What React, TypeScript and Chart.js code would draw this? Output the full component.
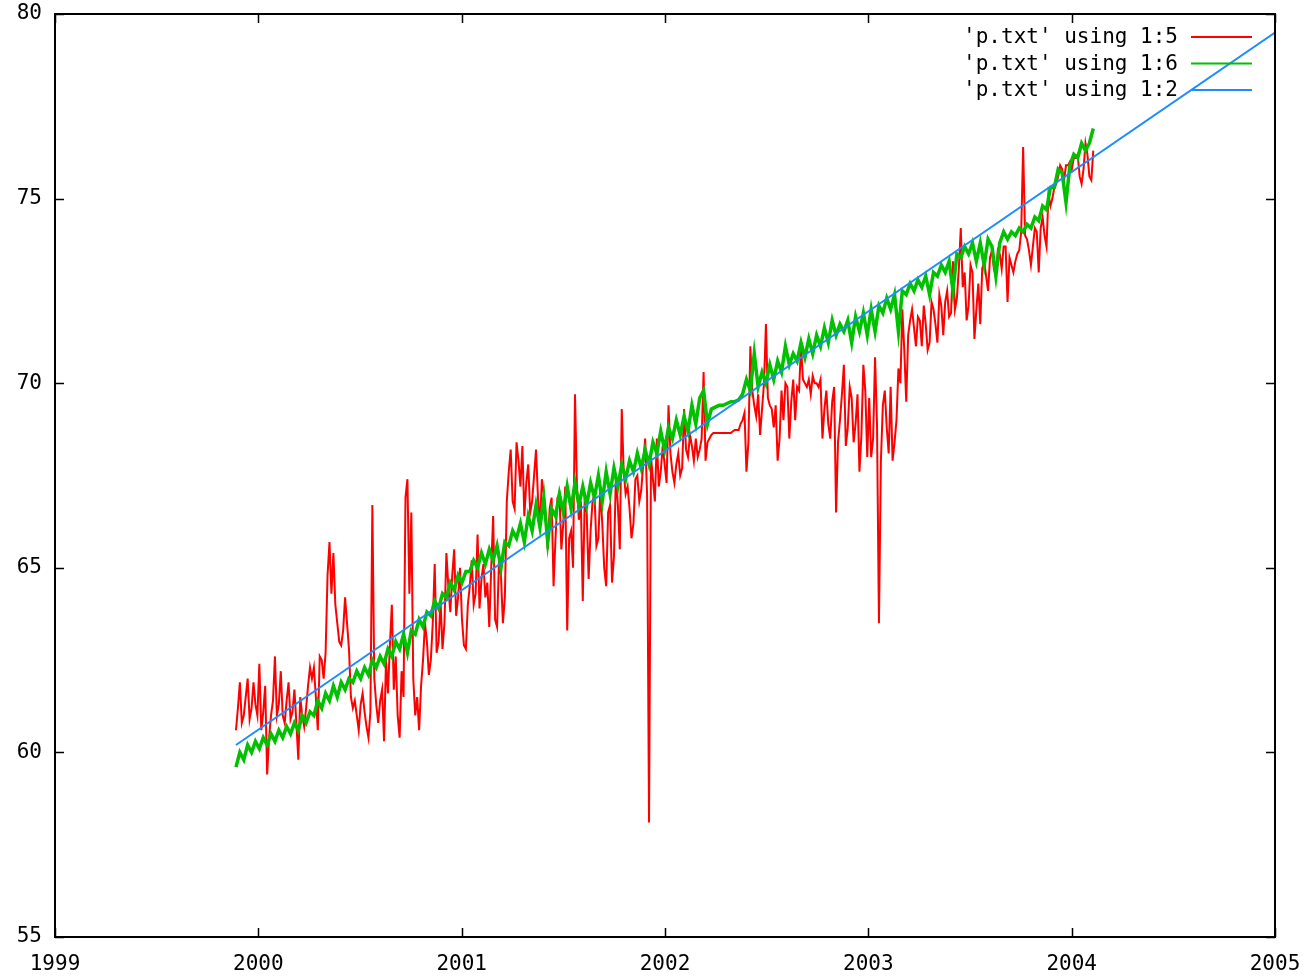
import React, { useEffect, useRef } from 'react';
import { Chart, registerables } from 'chart.js';

Chart.register(...registerables);

// Weekly samples starting late 1999 (mid-week readings sit half a step later)
const START_YEAR = 1999.89;
const STEP_YEARS = 7 / 365.25;

// 'p.txt' using 1:5 (red), weekly readings
const redValues: number[] = [
  60.6, 61.9, 61.0, 62.0, 61.2, 61.3, 62.4, 61.1, 59.4, 61.0,
  62.6, 61.3, 61.0, 61.4, 60.9, 61.7, 59.8, 61.0, 61.2, 62.3,
  62.3, 60.6, 62.5, 62.7, 65.7, 65.4, 63.5, 62.9, 64.2, 62.8,
  61.2, 61.0, 61.3, 61.1, 60.4, 66.7, 61.3, 61.4, 60.3, 61.6,
  64.0, 62.6, 60.4, 61.5, 67.4, 66.5, 61.0, 60.6, 62.5, 63.0,
  62.5, 65.1, 63.0, 62.8, 65.4, 63.8, 65.5, 64.2, 63.6, 62.8,
  64.5, 64.0, 65.9, 64.7, 64.2, 63.4, 66.4, 63.4, 64.8, 64.2,
  67.6, 66.8, 68.4, 67.2, 66.4, 67.8, 66.8, 68.2, 66.1, 67.0,
  65.5, 66.9, 65.8, 67.0, 66.2, 63.3, 66.0, 69.7, 66.3, 64.1,
  66.5, 66.0, 67.0, 65.8, 66.2, 64.5, 66.7, 65.3, 66.7, 69.3,
  67.0, 66.6, 66.2, 67.5, 67.1, 68.5, 58.1, 67.4, 68.5, 67.6,
  67.8, 69.4, 67.6, 67.8, 67.5, 69.3, 68.0, 68.3, 68.5, 68.2,
  70.3, 68.4, 68.6, 68.65, 68.65, 68.65, 68.65, 68.65, 68.73, 68.73,
  69.0, 67.6, 71.0, 69.4, 69.7, 69.3, 71.6, 69.4, 68.8, 67.9,
  69.8, 70.0, 68.5, 70.1, 69.9, 71.0, 70.0, 70.1, 70.2, 70.0,
  70.1, 69.3, 68.9, 69.5, 66.5, 69.0, 70.5, 68.8, 69.6, 68.9,
  67.6, 70.5, 68.0, 68.0, 70.7, 63.5, 69.4, 68.8, 69.9, 68.4,
  70.4, 72.0, 69.5, 71.7, 71.5, 71.8, 71.0, 71.6, 71.1, 72.0,
  71.1, 72.1, 72.2, 71.8, 73.3, 72.3, 74.2, 73.0, 72.1, 73.0,
  72.0, 71.6, 73.3, 72.5, 73.6, 72.9, 73.5, 73.7, 72.2, 73.2,
  73.3, 73.6, 76.4, 73.9, 73.2, 74.2, 73.0, 74.5, 73.7, 74.8,
  75.3, 75.6, 75.8, 75.9, 76.0, 76.1, 76.2, 75.4, 76.5, 75.6, 76.3,
];

// 'p.txt' using 1:5 (red), mid-week readings
const redMidValues: number[] = [
  61.2, 60.8, 61.5, 60.9, 61.9, 61.0, 60.6, 61.8, 60.4, 61.4,
  61.0, 62.2, 60.8, 61.9, 61.1, 60.8, 61.5, 60.7, 61.8, 62.0,
  61.5, 62.6, 62.0, 64.8, 64.3, 64.0, 63.0, 63.3, 63.5, 61.5,
  61.4, 60.6, 61.6, 60.7, 61.1, 62.0, 60.8, 61.7, 62.5, 62.9,
  61.7, 61.0, 62.2, 66.9, 64.3, 62.0, 61.5, 61.8, 63.5, 62.1,
  63.5, 62.7, 64.1, 63.5, 64.5, 64.8, 63.7, 65.0, 62.9, 64.0,
  65.2, 64.3, 63.9, 65.1, 64.6, 65.0, 63.6, 65.2, 63.5, 66.8,
  68.2, 66.6, 67.9, 68.3, 67.3, 66.5, 67.5, 66.9, 67.4, 66.3,
  66.6, 64.5, 66.9, 65.5, 67.2, 65.8, 65.0, 67.2, 66.8, 66.9,
  64.7, 66.8, 65.6, 67.1, 65.0, 66.5, 64.6, 67.5, 65.5, 67.6,
  67.2, 65.8, 67.4, 66.8, 67.8, 67.0, 68.0, 66.8, 67.2, 68.3,
  67.3, 68.1, 67.3, 68.1, 67.7, 68.2, 68.6, 67.9, 68.0, 68.5,
  67.9, 68.5, 68.65, 68.65, 68.65, 68.65, 68.65, 68.7, 68.73, 68.9,
  69.2, 68.4, 69.8, 69.1, 68.6, 70.0, 69.6, 69.3, 69.4, 68.5,
  69.0, 69.9, 69.5, 69.0, 69.8, 70.1, 69.9, 69.7, 70.0, 69.9,
  68.5, 69.8, 68.5, 69.9, 68.4, 69.7, 68.3, 69.9, 68.4, 69.7,
  68.6, 69.8, 69.6, 68.5, 68.9, 67.9, 69.8, 68.1, 67.9, 69.0,
  70.0, 70.9, 71.3, 72.0, 71.0, 71.7, 72.1, 70.9, 72.2, 71.6,
  72.4, 71.3, 72.5, 71.9, 72.0, 73.1, 72.6, 71.7, 73.2, 71.2,
  72.7, 73.1, 72.9, 73.4, 73.1, 73.6, 73.1, 73.7, 73.4, 73.0,
  73.5, 74.1, 74.0, 73.6, 73.7, 74.1, 74.2, 74.0, 75.1, 75.0,
  75.4, 75.9, 75.5, 75.9, 75.8, 76.1, 75.6, 75.8, 76.2, 75.5,
];

// 'p.txt' using 1:6 (green), weekly readings
const greenValues: number[] = [
  59.6, 60.0, 59.8, 60.2, 60.0, 60.3, 60.1, 60.4, 60.2, 60.5,
  60.3, 60.6, 60.4, 60.7, 60.5, 60.8, 60.6, 61.0, 60.8, 61.1,
  61.0, 61.4, 61.2, 61.6, 61.4, 61.8, 61.5, 61.9, 61.7, 62.0,
  61.9, 62.2, 62.0, 62.3, 62.1, 62.5, 62.3, 62.6, 62.4, 62.8,
  62.6, 63.0, 62.8, 63.2, 62.7, 63.3, 63.2, 63.6, 63.4, 63.8,
  63.7, 64.1, 63.9, 64.3, 64.2, 64.6, 64.4, 64.8, 64.6, 64.9,
  64.9, 65.2, 65.0, 65.4, 65.1, 65.5, 65.2, 65.6, 65.0, 65.7,
  65.6, 66.0, 65.8, 66.2, 65.7, 66.4, 66.0, 66.7, 66.1, 66.9,
  65.7, 66.6, 66.4, 67.0, 66.5, 67.2, 66.6, 67.3, 66.7, 67.2,
  66.7, 67.3, 66.9, 67.5, 66.8, 67.6, 67.0, 67.7, 67.2, 67.8,
  67.4, 67.9, 67.6, 68.1, 67.7, 68.2, 67.8, 68.4, 68.1, 68.7,
  68.2, 68.8, 68.5, 69.0, 68.6, 69.1, 68.7, 69.4, 68.9, 69.6,
  69.8, 68.9, 69.3, 69.35, 69.4, 69.4, 69.45, 69.5, 69.5, 69.55,
  69.7, 70.1, 69.8, 70.8, 69.9, 70.3, 70.0, 70.5, 70.1, 70.6,
  70.3, 71.0, 70.5, 70.8, 70.6, 71.1, 70.7, 71.2, 70.8, 71.3,
  71.0, 71.5, 71.1, 71.7, 71.3, 71.6, 71.4, 71.7, 71.1, 71.8,
  71.4, 71.9, 71.3, 72.0, 71.4, 72.1, 71.9, 72.3, 72.0, 72.4,
  71.4, 72.5, 72.4, 72.7, 72.5, 72.8, 72.6, 72.9, 72.4, 73.0,
  72.9, 73.2, 73.0, 73.3, 72.5, 73.5, 73.4, 73.7, 73.5, 73.8,
  73.3, 73.8, 73.2, 73.9, 73.7, 72.9, 73.8, 74.1, 73.9, 74.1,
  74.0, 74.2, 74.1, 74.3, 74.2, 74.5, 74.4, 74.8, 74.7, 75.3,
  75.3, 75.8, 75.7, 74.9, 75.9, 76.2, 76.1, 76.5, 76.3, 76.5, 76.9,
];

// 'p.txt' using 1:2 (blue fit line)
const fitYears: number[] = [1999.89, 2005];
const fitValues: number[] = [60.2, 79.5];

const xTicks: number[] = [1999, 2000, 2001, 2002, 2003, 2004, 2005];
const yTicks: number[] = [55, 60, 65, 70, 75, 80];

const legendLabels: string[] = ["'p.txt' using 1:5", "'p.txt' using 1:6", "'p.txt' using 1:2"];
const seriesColors: string[] = ['#ff0000', '#00c000', '#1e8cff'];

const FONT = '"DejaVu Sans Mono", monospace';

const framePlugin = {
  id: 'gnuFrame',
  afterDatasetsDraw(chart: any) {
    const { ctx, chartArea: a, scales } = chart;
    ctx.save();
    ctx.strokeStyle = '#000';
    ctx.lineWidth = 1.5;
    const tl = 9;
    ctx.beginPath();
    for (const t of xTicks) {
      const x = Math.round(scales.x.getPixelForValue(t)) + 0.5;
      ctx.moveTo(x, a.bottom);
      ctx.lineTo(x, a.bottom - tl);
      ctx.moveTo(x, a.top);
      ctx.lineTo(x, a.top + tl);
    }
    for (const t of yTicks) {
      const y = Math.round(scales.y.getPixelForValue(t)) + 0.5;
      ctx.moveTo(a.left, y);
      ctx.lineTo(a.left + tl, y);
      ctx.moveTo(a.right, y);
      ctx.lineTo(a.right - tl, y);
    }
    ctx.stroke();
    ctx.lineWidth = 2;
    ctx.strokeRect(a.left, a.top, a.right - a.left, a.bottom - a.top);

    // tick labels
    ctx.font = `21px ${FONT}`;
    ctx.fillStyle = '#000';
    ctx.textAlign = 'center';
    ctx.textBaseline = 'middle';
    for (const t of xTicks) {
      ctx.fillText(String(t), scales.x.getPixelForValue(t), a.bottom + 28);
    }
    ctx.textAlign = 'right';
    for (const t of yTicks) {
      ctx.fillText(String(t), a.left - 13, scales.y.getPixelForValue(t));
    }

    // legend
    ctx.font = `21px ${FONT}`;
    legendLabels.forEach((label, i) => {
      const y = a.top + 24 + i * 26.5;
      ctx.fillStyle = '#000';
      ctx.fillText(label, a.right - 97, y);
      ctx.strokeStyle = seriesColors[i];
      ctx.lineWidth = 2;
      ctx.beginPath();
      ctx.moveTo(a.right - 84, y - 1);
      ctx.lineTo(a.right - 23, y - 1);
      ctx.stroke();
    });
    ctx.restore();
  },
};

export default function App() {
  const canvasRef = useRef<HTMLCanvasElement | null>(null);

  useEffect(() => {
    document.body.style.margin = '0';
    const canvas = canvasRef.current;
    if (!canvas) return;
    const dates = redValues.map((_, i) => START_YEAR + i * STEP_YEARS);
    const redPoints: { x: number; y: number }[] = [];
    dates.forEach((x, i) => {
      redPoints.push({ x, y: redValues[i] });
      if (i < redMidValues.length) redPoints.push({ x: x + STEP_YEARS / 2, y: redMidValues[i] });
    });
    const chart = new Chart(canvas, {
      type: 'line',
      data: {
        datasets: [
          {
            label: legendLabels[2],
            data: fitYears.map((x, i) => ({ x, y: fitValues[i] })),
            borderColor: seriesColors[2],
            borderWidth: 2,
            pointRadius: 0,
            order: 1,
          },
          {
            label: legendLabels[1],
            data: dates.map((x, i) => ({ x, y: greenValues[i] })),
            borderColor: seriesColors[1],
            borderWidth: 3.5,
            pointRadius: 0,
            order: 2,
          },
          {
            label: legendLabels[0],
            data: redPoints,
            borderColor: seriesColors[0],
            borderWidth: 2,
            pointRadius: 0,
            order: 3,
          },
        ],
      },
      options: {
        animation: false,
        responsive: false,
        maintainAspectRatio: false,
        layout: { padding: { top: 14, right: 35, left: 0, bottom: 0 } },
        plugins: {
          legend: { display: false },
          tooltip: { enabled: false },
        },
        scales: {
          x: {
            type: 'linear',
            min: 1999,
            max: 2005,
            afterFit: (s: any) => { s.height = 39; },
            ticks: { display: false },
            grid: { display: false, drawTicks: false },
            border: { display: false },
          },
          y: {
            type: 'linear',
            min: 55,
            max: 80,
            afterFit: (s: any) => { s.width = 55; },
            ticks: { display: false },
            grid: { display: false, drawTicks: false },
            border: { display: false },
          },
        },
      },
      plugins: [framePlugin],
    });
    return () => chart.destroy();
  }, []);

  return (
    <div style={{ position: 'absolute', left: 0, top: 0, width: 1310, height: 976, background: '#fff' }}>
      <canvas ref={canvasRef} width={1310} height={976} />
    </div>
  );
}
